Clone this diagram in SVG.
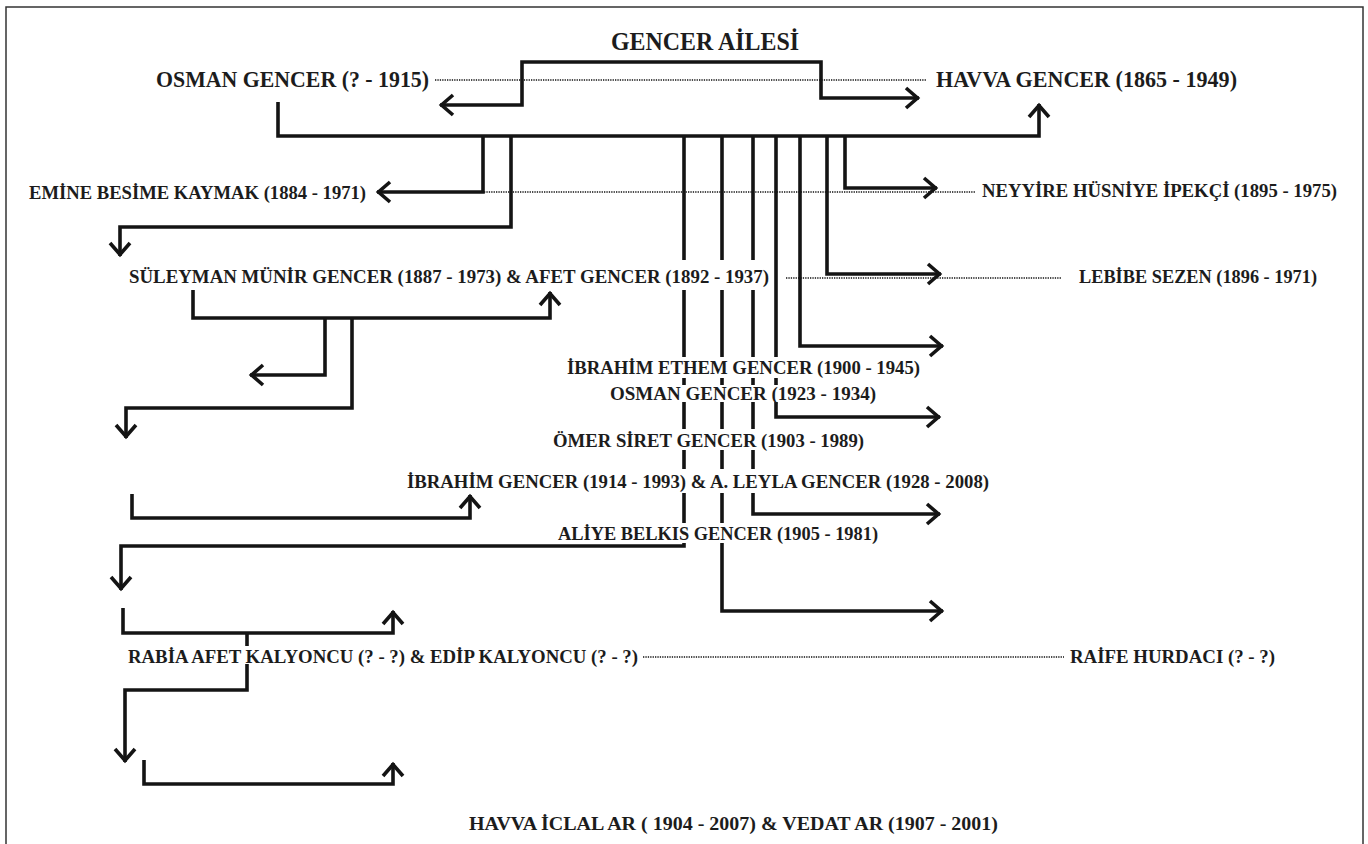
<svg xmlns="http://www.w3.org/2000/svg" width="1368" height="844" viewBox="0 0 1368 844">
<style>
.ln{fill:none;stroke:#141414;stroke-width:3.6;stroke-linejoin:miter;stroke-linecap:butt}
.dot{fill:none;stroke:#111;stroke-width:1.3;stroke-dasharray:1.3 1.1}
.t{font-family:"Liberation Serif","DejaVu Serif",serif;font-weight:bold;fill:#1c1c1c;font-size:19.5px}
.big{font-size:23px}
.title{font-size:25px}
.bg{fill:#ffffff}
</style>
<defs>
<marker id="ah" markerUnits="userSpaceOnUse" markerWidth="30" markerHeight="30" viewBox="-20 -15 30 30" refX="0" refY="0" orient="auto-start-reverse">
<path d="M-13,-10 L-1.5,0 L-13,10" fill="none" stroke="#141414" stroke-width="3.6"/>
</marker>
</defs>
<rect x="6" y="7" width="1357" height="860" fill="#fff" stroke="#333" stroke-width="1.5"/>
<g id="connectors">
<path class="dot" d="M435 80 H927"/>
<path class="dot" d="M484 192 H975"/>
<path class="dot" d="M786 278 H1061"/>
<path class="dot" d="M643 657 H1064"/>
<path class="ln" d="M440 105 H522 V62 H821 V98 H919" marker-start="url(#ah)" marker-end="url(#ah)"/>
<path class="ln" d="M278 102 V136 H1039 V104" marker-end="url(#ah)"/>
<path class="ln" d="M483 136 V192 H377" marker-end="url(#ah)"/>
<path class="ln" d="M511 136 V227 H120 V256" marker-end="url(#ah)"/>
<path class="ln" d="M684 136 V546 H121 V590" marker-end="url(#ah)"/>
<path class="ln" d="M722 136 V611 H943" marker-end="url(#ah)"/>
<path class="ln" d="M753 136 V514 H940" marker-end="url(#ah)"/>
<path class="ln" d="M776 136 V417 H940" marker-end="url(#ah)"/>
<path class="ln" d="M800 136 V346 H943" marker-end="url(#ah)"/>
<path class="ln" d="M827 136 V274 H941" marker-end="url(#ah)"/>
<path class="ln" d="M845 136 V188 H937" marker-end="url(#ah)"/>
<path class="ln" d="M193 290 V318 H550 V292" marker-end="url(#ah)"/>
<path class="ln" d="M325 318 V375 H250" marker-end="url(#ah)"/>
<path class="ln" d="M352 318 V408 H126 V438" marker-end="url(#ah)"/>
<path class="ln" d="M132 494 V518 H470 V495" marker-end="url(#ah)"/>
<path class="ln" d="M123 608 V633 H393 V611" marker-end="url(#ah)"/>
<path class="ln" d="M247 633 V690 H125 V762" marker-end="url(#ah)"/>
<path class="ln" d="M144 760 V784 H393 V763" marker-end="url(#ah)"/>
</g>
<g id="n-title"><text class="t title" x="611" y="50" textLength="188" lengthAdjust="spacingAndGlyphs">GENCER AİLESİ</text></g>
<g id="n-osman"><text class="t big" x="156" y="87" textLength="273" lengthAdjust="spacingAndGlyphs">OSMAN GENCER (? - 1915)</text></g>
<g id="n-havva"><text class="t big" x="936" y="87" textLength="301" lengthAdjust="spacingAndGlyphs">HAVVA GENCER (1865 - 1949)</text></g>
<g id="n-emine"><text class="t" x="29" y="199" textLength="337" lengthAdjust="spacingAndGlyphs">EMİNE BESİME KAYMAK (1884 - 1971)</text></g>
<g id="n-neyyire"><text class="t" x="982" y="197" textLength="355" lengthAdjust="spacingAndGlyphs">NEYYİRE HÜSNİYE İPEKÇİ (1895 - 1975)</text></g>
<g id="n-suleyman"><rect class="bg" x="126" y="260" width="646" height="30"/><text class="t" x="129" y="283" textLength="640" lengthAdjust="spacingAndGlyphs">SÜLEYMAN MÜNİR GENCER (1887 - 1973) &amp; AFET GENCER (1892 - 1937)</text></g>
<g id="n-lebibe"><text class="t" x="1079" y="283" textLength="238" lengthAdjust="spacingAndGlyphs">LEBİBE SEZEN (1896 - 1971)</text></g>
<g id="n-ibrahim-ethem"><rect class="bg" x="564" y="357" width="359" height="21"/><text class="t" x="567" y="374" textLength="353" lengthAdjust="spacingAndGlyphs">İBRAHİM ETHEM GENCER (1900 - 1945)</text></g>
<g id="n-osman2"><rect class="bg" x="607" y="385" width="272" height="17"/><text class="t" x="610" y="400" textLength="266" lengthAdjust="spacingAndGlyphs">OSMAN GENCER (1923 - 1934)</text></g>
<g id="n-omer"><rect class="bg" x="550" y="429" width="317" height="21"/><text class="t" x="553" y="447" textLength="311" lengthAdjust="spacingAndGlyphs">ÖMER SİRET GENCER (1903 - 1989)</text></g>
<g id="n-ibrahim"><rect class="bg" x="404" y="469" width="588" height="24"/><text class="t" x="407" y="488" textLength="582" lengthAdjust="spacingAndGlyphs">İBRAHİM GENCER (1914 - 1993) &amp; A. LEYLA GENCER (1928 - 2008)</text></g>
<g id="n-aliye"><rect class="bg" x="555" y="523" width="326" height="20"/><text class="t" x="558" y="540" textLength="320" lengthAdjust="spacingAndGlyphs">ALİYE BELKIS GENCER (1905 - 1981)</text></g>
<g id="n-rabia"><rect class="bg" x="125" y="646" width="516" height="18"/><text class="t" x="128" y="663" textLength="510" lengthAdjust="spacingAndGlyphs">RABİA AFET KALYONCU (? - ?) &amp; EDİP KALYONCU (? - ?)</text></g>
<g id="n-raife"><text class="t" x="1070" y="663" textLength="205" lengthAdjust="spacingAndGlyphs">RAİFE HURDACI (? - ?)</text></g>
<g id="n-havva-iclal"><text class="t" x="469" y="830" textLength="529" lengthAdjust="spacingAndGlyphs">HAVVA İCLAL AR ( 1904 - 2007) &amp; VEDAT AR (1907 - 2001)</text></g>
</svg>
